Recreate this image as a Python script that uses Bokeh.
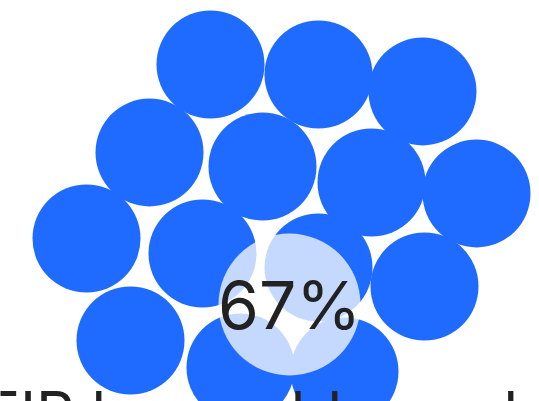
from bokeh.plotting import figure
from bokeh.models import ColumnDataSource, Range1d, Label
from bokeh.core.properties import value
from bokeh.embed import file_html
from bokeh.resources import INLINE

# packed bubbles (centre x, centre y, radius) in chart units
bubble_x = [210, 318, 422, 149, 262, 371, 476, 86, 202, 318, 424, 130, 240, 344]
bubble_y = [337, 327, 310, 249, 235, 219, 208, 163, 148, 134, 115, 61, 34, 30]
bubble_r = [54] * 14

# highlighted bubble
highlight_x = [289]
highlight_y = [97]
highlight_r = [71]
highlight_label = ["67%"]

# caption (cut off at bottom)
caption_x = [-16]
caption_y = [-11]
caption_text = ["FIR honorable mark"]

p = figure(width=539, height=401, output_backend="svg", toolbar_location=None,
           title=None,
           x_range=Range1d(0, 539), y_range=Range1d(0, 401),
           min_border=0, outline_line_color=None, background_fill_color="white",
           border_fill_color="white")
p.axis.visible = False
p.grid.visible = False

src = ColumnDataSource(dict(x=bubble_x, y=bubble_y, r=bubble_r))
p.circle(x="x", y="y", radius="r", source=src, fill_color="#1f6bff", line_color=None)

hsrc = ColumnDataSource(dict(x=highlight_x, y=highlight_y, r=highlight_r, t=highlight_label))
p.circle(x="x", y="y", radius="r", source=hsrc, fill_color="white", fill_alpha=0.74, line_color=None)
p.text(x="x", y="y", text="t", source=hsrc, text_align="center", text_baseline="alphabetic",
       text_font=value("Inter"), text_font_size="66px", text_color="#222222")

for cx, cy, ct in zip(caption_x, caption_y, caption_text):
    p.add_layout(Label(x=cx, y=cy, x_units="data", y_units="data", text=ct,
                       text_align="left", text_baseline="alphabetic",
                       text_font="Inter", text_font_size="60px", text_color="#222222"))

open("out.html", "w").write(file_html(p, INLINE))
